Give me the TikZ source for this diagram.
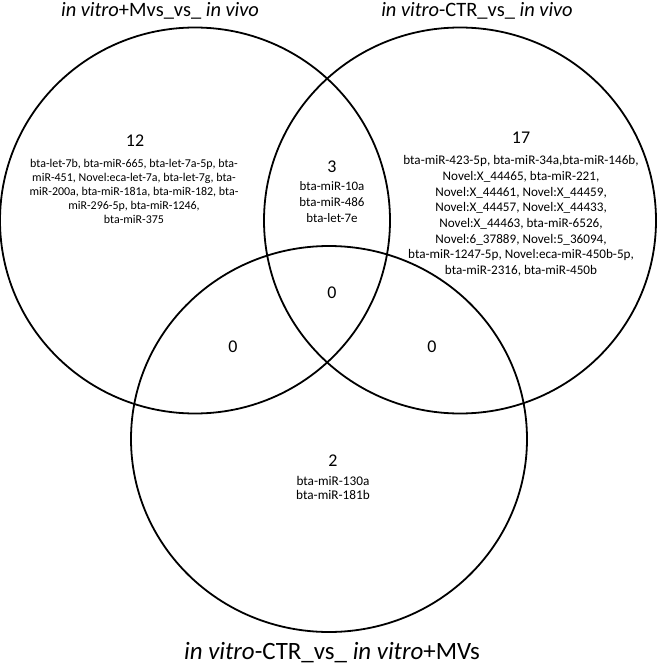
\documentclass[tikz,border=0pt]{standalone}
\usepackage{fontspec}
\setmainfont{Carlito}
\begin{document}
\begin{tikzpicture}[x=1bp,y=-1bp,
  venn/.style={line width=1.8bp},
  ttl/.style={font=\fontsize{20.5}{24}\selectfont, inner sep=0, anchor=base},
  ttlb/.style={font=\fontsize{25}{28}\selectfont, inner sep=0, anchor=base},
  num/.style={font=\fontsize{18}{22}\selectfont, inner sep=0},
  lsts/.style={align=center, inner sep=0, font=\fontsize{12}{14}\selectfont},
  lstm/.style={align=center, inner sep=0, font=\fontsize{13}{16.5}\selectfont},
  lstr/.style={align=center, inner sep=0, font=\fontsize{13.2}{15.7}\selectfont},
  lstb/.style={align=center, inner sep=0, font=\fontsize{13.3}{14.5}\selectfont}]
\useasboundingbox (0,0) rectangle (658,665);
\coordinate (cA) at (195,220.5);
\coordinate (cB) at (460,220.5);
\coordinate (cC) at (329,439);
\draw[venn] (cA) ellipse [x radius=195, y radius=193];
\draw[venn] (cB) ellipse [x radius=196, y radius=193];
\draw[venn] (cC) ellipse [x radius=198, y radius=193];
% titles
\node[ttl] (tA) at (160,17) {\textit{in vitro}+Mvs\_vs\_ \textit{in vivo}};
\node[ttl] (tB) at (477,17) {\textit{in vitro}-CTR\_vs\_ \textit{in vivo}};
\node[ttlb] (tC) at (332,659) {\textit{in vitro}-CTR\_vs\_ \textit{in vitro}+MVs};
% left only
\node[num] (nA) at (135,141) {12};
\node[lsts] (lA) at (134,191) {bta-let-7b, bta-miR-665, bta-let-7a-5p, bta-\\miR-451, Novel:eca-let-7a, bta-let-7g, bta-\\miR-200a, bta-miR-181a, bta-miR-182, bta-\\miR-296-5p, bta-miR-1246,\\bta-miR-375};
% right only
\node[num] (nB) at (521,138) {17};
\node[lstr] (lB) at (521,216) {bta-miR-423-5p, bta-miR-34a,bta-miR-146b,\\Novel:X\_44465, bta-miR-221,\\Novel:X\_44461, Novel:X\_44459,\\Novel:X\_44457, Novel:X\_44433,\\Novel:X\_44463, bta-miR-6526,\\Novel:6\_37889, Novel:5\_36094,\\bta-miR-1247-5p, Novel:eca-miR-450b-5p,\\bta-miR-2316, bta-miR-450b};
% A and B
\node[num] (nAB) at (332,167) {3};
\node[lstm] (lAB) at (332,202) {bta-miR-10a\\bta-miR-486\\bta-let-7e};
% center
\node[num] (nABC) at (332,293) {0};
\node[num] (nAC) at (233,347) {0};
\node[num] (nBC) at (432,347) {0};
% bottom only
\node[num] (nC) at (333,461) {2};
\node[lstb] (lC) at (333,488) {bta-miR-130a\\bta-miR-181b};
\end{tikzpicture}
\end{document}
